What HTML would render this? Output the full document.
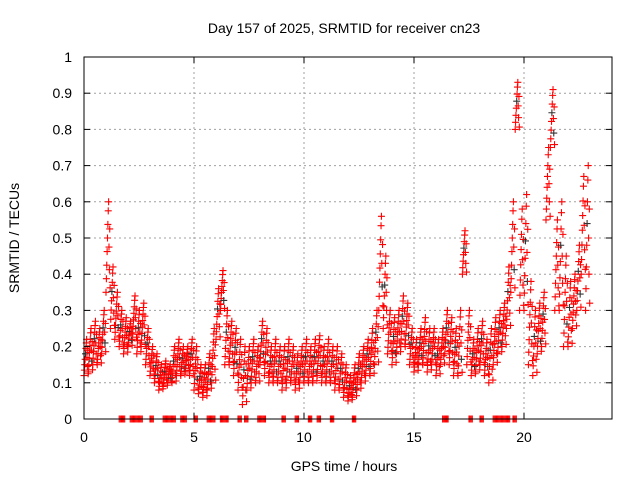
<!DOCTYPE html>
<html><head><meta charset="utf-8"><style>
body{margin:0;background:#fff;}
svg{display:block;font-family:"Liberation Sans",sans-serif;}
</style></head><body>
<svg id="chart" width="640" height="480" viewBox="0 0 640 480">
<rect width="640" height="480" fill="#fff"/>
<g id="grid"></g>
<g id="marks"></g>
<rect x="84" y="57" width="528" height="362" fill="none" stroke="#000" stroke-width="1"/>
<g id="ticks"></g>
<text x="344" y="33" font-size="14" text-anchor="middle">Day 157 of 2025, SRMTID for receiver cn23</text>
<text x="344" y="471" font-size="14" text-anchor="middle">GPS time / hours</text>
<text transform="translate(19,238) rotate(-90)" font-size="14" text-anchor="middle">SRMTID / TECUs</text>
</svg>
<script>
const xTicks=[0,5,10,15,20];
const yTicks=[0,0.1,0.2,0.3,0.4,0.5,0.6,0.7,0.8,0.9,1];
const yTickLabels=["0","0.1","0.2","0.3","0.4","0.5","0.6","0.7","0.8","0.9","1"];
const tStart=0, tStep=0.2;
const hiVals=[0.22,0.25,0.27,0.25,0.3,0.6,0.42,0.35,0.3,0.28,0.27,0.34,0.3,0.32,0.25,0.2,0.18,0.15,0.16,0.15,0.2,0.22,0.2,0.2,0.22,0.2,0.15,0.15,0.18,0.25,0.36,0.41,0.3,0.27,0.25,0.22,0.2,0.2,0.22,0.2,0.27,0.25,0.2,0.22,0.2,0.2,0.22,0.2,0.18,0.2,0.22,0.2,0.22,0.23,0.2,0.22,0.2,0.2,0.18,0.15,0.12,0.15,0.18,0.2,0.22,0.25,0.3,0.56,0.45,0.3,0.28,0.3,0.34,0.32,0.25,0.22,0.25,0.28,0.25,0.25,0.22,0.25,0.3,0.28,0.25,0.3,0.52,0.3,0.22,0.25,0.27,0.22,0.25,0.28,0.3,0.32,0.42,0.6,0.93,0.58,0.62,0.38,0.3,0.32,0.35,0.75,0.91,0.55,0.6,0.45,0.38,0.4,0.48,0.67,0.7];
const loVals=[0.12,0.13,0.15,0.15,0.18,0.35,0.25,0.22,0.2,0.18,0.2,0.22,0.18,0.2,0.15,0.12,0.1,0.08,0.09,0.1,0.1,0.12,0.12,0.13,0.12,0.08,0.07,0.06,0.08,0.1,0.22,0.3,0.15,0.15,0.12,0.08,0.04,0.08,0.1,0.1,0.15,0.12,0.1,0.1,0.1,0.08,0.1,0.1,0.08,0.1,0.1,0.1,0.1,0.12,0.1,0.1,0.1,0.08,0.08,0.06,0.05,0.06,0.08,0.1,0.12,0.12,0.15,0.3,0.25,0.18,0.15,0.18,0.2,0.2,0.15,0.13,0.15,0.15,0.13,0.15,0.12,0.15,0.18,0.15,0.12,0.12,0.4,0.15,0.12,0.13,0.15,0.12,0.1,0.15,0.18,0.2,0.25,0.35,0.8,0.3,0.3,0.15,0.12,0.18,0.2,0.55,0.75,0.3,0.3,0.2,0.2,0.25,0.3,0.4,0.3];
const zeroTimes=[1.6,1.7,2.1,2.3,2.5,3.0,3.6,3.8,4.0,4.4,4.5,5.0,5.6,5.8,6.2,6.4,7.0,7.3,7.9,8.1,9.0,9.6,10.2,10.6,11.2,12.2,16.3,16.4,17.5,18.0,18.6,18.8,19.0,19.2,19.5];

const NS="http://www.w3.org/2000/svg";
const X0=84,X1=612,Y0=419,Y1=57;
const xs=h=>X0+(h/24)*(X1-X0);
const ys=v=>Y0-v*(Y0-Y1);
function mk(tag,attrs,parent){const e=document.createElementNS(NS,tag);for(const k in attrs)e.setAttribute(k,attrs[k]);parent.appendChild(e);return e;}
const grid=document.getElementById('grid'),ticks=document.getElementById('ticks'),marks=document.getElementById('marks');
yTicks.forEach((v,i)=>{
  const y=ys(v);
  if(i>0&&i<yTicks.length-1){const g=mk('line',{x1:X0,x2:X1,y1:y,y2:y,stroke:'#a0a0a0','stroke-dasharray':'2,3'},grid);
  
  }
  const t=mk('line',{x1:X0,x2:X0+6,y1:y,y2:y,stroke:'#000'},ticks);
  
  
  const t2=mk('line',{x1:X1-6,x2:X1,y1:y,y2:y,stroke:'#000'},ticks);
  
  
  const l=mk('text',{x:X0-12,y:y+5,'font-size':14,'text-anchor':'end'},ticks);
  l.textContent=yTickLabels[i];
  
  
});
xTicks.forEach(h=>{
  const x=xs(h);
  if(h>0){const g=mk('line',{x1:x,x2:x,y1:Y1,y2:Y0,stroke:'#a0a0a0','stroke-dasharray':'2,3'},grid);
  
  }
  const t=mk('line',{x1:x,x2:x,y1:Y0,y2:Y0-6,stroke:'#000'},ticks);
  
  
  const t2=mk('line',{x1:x,x2:x,y1:Y1,y2:Y1+6,stroke:'#000'},ticks);
  
  
  const l=mk('text',{x:x,y:Y0+23,'font-size':14,'text-anchor':'middle'},ticks);
  l.textContent=String(h);
  
  
});
function plus(h,v,color){
  const x=xs(h),y=ys(v);
  const p=mk('path',{d:`M${x-3.5} ${y}H${x+3.5}M${x} ${y-3.5}V${y+3.5}`,stroke:color,'stroke-width':1.1,fill:'none'},marks);
  
  
}
const fracs=[0,0.15,0.3,0.45,0.6,0.75,0.9,1,0.5,0.25,0.7,0.05];
hiVals.forEach((hi,i)=>{
  const lo=loVals[i],t=tStart+i*tStep;
  fracs.forEach((f,k)=>{
    const v=lo+(hi-lo)*f;
    const dt=(k*0.017)%0.2;
    const c=(k===4&&i%2===0)||(k===9&&i%3===1)?'#333':'#f00';
    plus(t+dt,v,c);
  });
});
zeroTimes.forEach(h=>{plus(h,0,'#f00');plus(h+0.05,0,'#f00');plus(h+0.1,0,'#f00');plus(h+0.15,0,'#f00');});
</script>
</body></html>
